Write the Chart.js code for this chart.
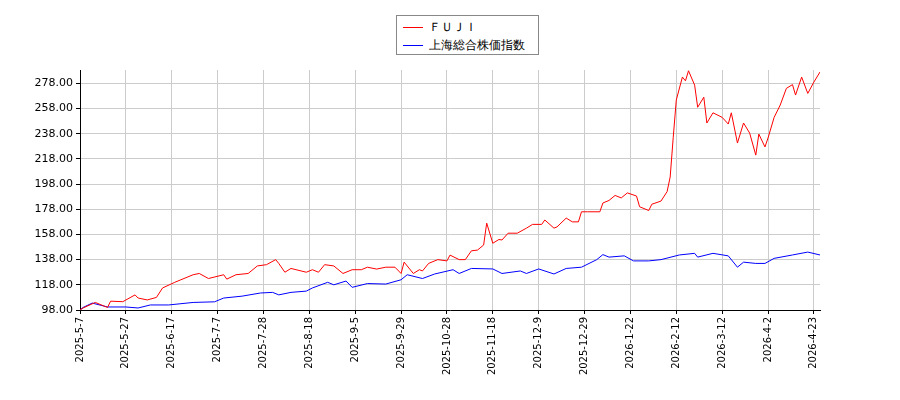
<!DOCTYPE html>
<html><head><meta charset="utf-8">
<script src="https://cdn.jsdelivr.net/npm/chart.js@4/dist/chart.umd.min.js"></script>
<style>
body{margin:0;background:#fff;font-family:"DejaVu Sans",sans-serif}
#wrap{position:relative;width:900px;height:400px}
#leg{position:absolute;left:396px;top:15px;width:143px;height:40px;border:1px solid #888;background:#fff;font-size:12px;box-sizing:border-box;padding:2px 6px;line-height:18px}
#leg span.l{display:inline-block;width:20px;height:0;border-top:1.5px solid;vertical-align:middle;margin-right:6px}
</style></head><body>
<div id="wrap"><canvas id="c" width="900" height="400"></canvas>
<div id="leg"><div><span class="l" style="border-color:#f00"></span>ＦＵＪＩ</div><div><span class="l" style="border-color:#00f"></span>上海総合株価指数</div></div></div>
<script>
const tickLabels=["2025-5-7","2025-5-27","2025-6-17","2025-7-7","2025-7-28","2025-8-18","2025-9-5","2025-9-29","2025-10-28","2025-11-18","2025-12-9","2025-12-29","2026-1-22","2026-2-12","2026-3-12","2026-4-2","2026-4-23"];
const fujiIdx=[0,1,5,9,10,14,18,19,22,25,27,31,33,37,39,42,47,48,51,55,58,61,64,65,67,69,74,76,78,80,83,86,89,92,94,97,100,103,105,106,109,111,112,114,117,120,121,124,126,128,130,132,133,135,137,138,140,143,146,148,151,152,155,156,159,161,163,164,166,170,171,173,175,177,179,182,183,186,187,190,192,193,194,195,197,198,199,201,202,204,205,207,210,212,213,215,217,219,221,222,224,225,227,229,231,233,234,236,238,240,242];
const fujiVal=[98,99.6,104,100,105,104.6,110,107.5,106,108,115.5,120,122,126,127,123,126,122.5,126,127,133,134,138,135,128,131,128,130,128,134,133,127,130,130,132,130.5,132,132,127,136,127,130,129,135,138,137,141.6,138,138,145,145.6,149.6,167,151,154,153.6,159,159,163,166,166,169.5,163,164,171,168,168,176,176,176,183,185,189,187,191,188.5,180,177,182,184.5,192,203.6,235,264.7,283,280,288,276.6,259,267,246.5,254.6,251,245.7,254.6,230.6,246.5,238.5,221,237.7,227.5,234.6,251,260.8,274,277,268.7,283,270,279,287];
const shIdx=[0,1,4,9,15,19,23,29,37,44,47,53,59,63,65,69,74,76,81,83,87,89,94,100,105,107,112,116,122,124,128,135,138,144,146,150,155,159,164,169,171,173,178,181,186,190,196,201,202,207,212,215,217,221,224,227,233,238,242];
const shVal=[98,100,103.5,100.4,100.4,99.6,102,102,104,104.5,107.5,109,111.5,112,110,112,113,115.5,120,118,121,116,119,118.6,122,126,123,126.6,130,127,131,130.6,127,129,127,130.6,126.6,131,132,138,142,140,141,137,137,138,141.7,143,140,143,141,132,136,135,135,139,141.7,144,141.7];
const yTicks=[98,118,138,158,178,198,218,238,258,278];
const pts=(a,b)=>a.map((x,i)=>({x:x,y:b[i]}));
new Chart(document.getElementById('c'),{
type:'line',
data:{datasets:[
{data:pts(fujiIdx,fujiVal),borderColor:'#f00',borderWidth:1,pointRadius:0,tension:0},
{data:pts(shIdx,shVal),borderColor:'#00f',borderWidth:1,pointRadius:0,tension:0}]},
options:{responsive:false,animation:false,
layout:{padding:{top:70,right:80,left:0,bottom:0}},
plugins:{legend:{display:false},tooltip:{enabled:false}},
scales:{
x:{type:'linear',min:0,max:242,
 afterBuildTicks:s=>{s.ticks=tickLabels.map((t,i)=>({value:i*15}));},
 afterFit:s=>{s.height=90;},
 ticks:{autoSkip:false,maxRotation:90,minRotation:90,color:'#000',font:{family:'DejaVu Sans',size:10},callback:(v)=>tickLabels[Math.round(v/15)]},
 grid:{color:'#ccc',drawTicks:true,tickLength:4,tickColor:'#000'},border:{color:'#000',width:1}},
y:{min:98,max:288.6,
 afterBuildTicks:s=>{s.ticks=yTicks.map(v=>({value:v}));},
 afterFit:s=>{s.width=80;},
 ticks:{color:'#000',font:{family:'DejaVu Sans',size:11},callback:v=>v.toFixed(2)},
 grid:{color:'#ccc',tickLength:4,tickColor:'#000'},border:{color:'#000',width:1}}
}}});
</script></body></html>
